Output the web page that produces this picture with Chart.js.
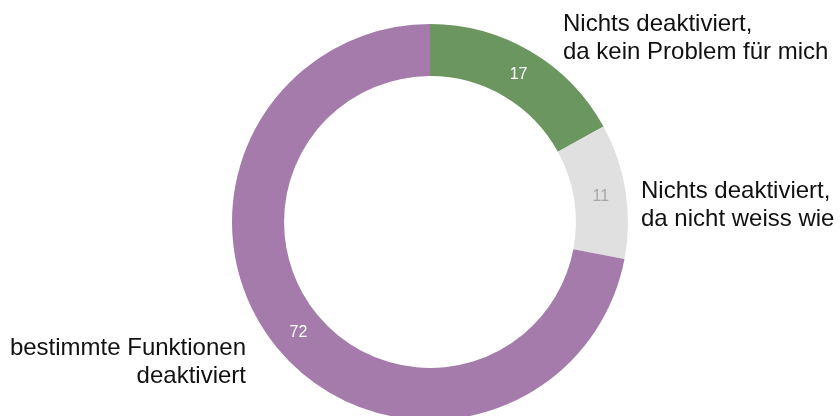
<!DOCTYPE html>
<html>
<head>
<meta charset="utf-8">
<script src="https://cdn.jsdelivr.net/npm/chart.js@4.4.1/dist/chart.umd.min.js"></script>
<style>
html,body{margin:0;padding:0;overflow:hidden;background:#fff;}
#wrap{width:840px;height:440px;position:absolute;left:0;top:0;}
</style>
</head>
<body>
<div id="wrap"><canvas id="c" width="840" height="440"></canvas></div>
<script>
const categories = [
  "Nichts deaktiviert,\nda kein Problem für mich",
  "Nichts deaktiviert,\nda nicht weiss wie",
  "bestimmte Funktionen\ndeaktiviert"
];
const values = [17, 11, 72];
const colors = ["#6b9660", "#e0e0e0", "#a57bac"];
const valueLabelColors = ["#ffffff", "#a8a8a8", "#ffffff"];

const FONT = '"Liberation Sans", Arial, Helvetica, sans-serif';

const labelPlugin = {
  id: 'labels',
  afterDatasetsDraw(chart) {
    const ctx = chart.ctx;
    const meta = chart.getDatasetMeta(0);
    ctx.save();
    // value labels
    ctx.font = '16px ' + FONT;
    ctx.textAlign = 'center';
    ctx.textBaseline = 'middle';
    meta.data.forEach((arc, i) => {
      const p = arc.tooltipPosition();
      ctx.fillStyle = valueLabelColors[i];
      ctx.fillText(String(values[i]), p.x + 1, p.y + 1);
    });
    // category labels
    ctx.font = '24px ' + FONT;
    ctx.fillStyle = '#111111';
    ctx.textBaseline = 'alphabetic';
    const placements = [
      {x: 563, y: 31, align: 'left'},
      {x: 641, y: 198, align: 'left'},
      {x: 246, y: 355, align: 'right'}
    ];
    categories.forEach((c, i) => {
      const pl = placements[i];
      ctx.textAlign = pl.align;
      c.split('\n').forEach((line, j) => {
        ctx.fillText(line, pl.x, pl.y + j * 28);
      });
    });
    ctx.restore();
  }
};

new Chart(document.getElementById('c'), {
  type: 'doughnut',
  data: {
    labels: categories,
    datasets: [{
      data: values,
      backgroundColor: colors,
      borderWidth: 0
    }]
  },
  options: {
    responsive: false,
    animation: false,
    cutout: '73.7%',
    layout: {padding: {left: 232, right: 212, top: 24, bottom: 20}},
    plugins: {legend: {display: false}, tooltip: {enabled: false}}
  },
  plugins: [labelPlugin]
});
</script>
</body>
</html>
